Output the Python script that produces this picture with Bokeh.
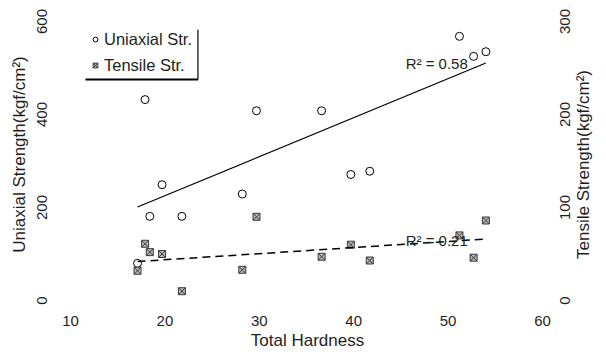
import math
import numpy as np
from bokeh.plotting import figure
from bokeh.models import Range1d, LinearAxis, FixedTicker, Legend, LegendItem
from bokeh.core.properties import value
from bokeh.embed import file_html
from bokeh.resources import INLINE

# ---- data ----
hardness = [17.1, 17.9, 18.4, 19.7, 21.8, 28.2, 29.7, 36.6, 39.7, 41.7, 51.2, 52.7, 54.0]
uniaxial = [80, 432, 181, 249, 181, 229, 408, 408, 271, 278, 568, 525, 535]
tensile = [32, 61, 52, 50, 10, 33, 90, 47, 60, 43, 70, 46, 86]
x_ticks = [10, 20, 30, 40, 50, 60]
left_ticks = [0, 200, 400, 600]
right_ticks = [0, 100, 200, 300]
series_names = ["Uniaxial Str.", "Tensile Str."]
r2_labels = ["R\u00b2 = 0.58", "R\u00b2 = 0.21"]
x_title = "Total Hardness"
left_title = "Uniaxial Strength(kgf/cm\u00b2)"
right_title = "Tensile Strength(kgf/cm\u00b2)"

FONT = "Liberation Sans"
TXT = "#1e1e1e"
W, H = 606, 359
L, R, T, B = 58, 556, 14, 312
TICK_PX = 15
TITLE_PX = 17
YL = (-25.8, 615)
YR = (-12.9, 307.5)
px_per_v = (B - T) / (YL[1] - YL[0])
px_per_t = (B - T) / (YR[1] - YR[0])

p = figure(width=W, height=H, output_backend="svg", toolbar_location=None,
           x_range=Range1d(8.73, 61.48), y_range=Range1d(*YL),
           min_border_left=L, min_border_right=W - R, min_border_top=T,
           min_border_bottom=H - B)
p.extra_y_ranges = {"t": Range1d(*YR)}

yl = p.yaxis[0]
yr = LinearAxis(y_range_name="t")
p.add_layout(yr, "right")

# y-axis titles are carried by one-label axes so they can read bottom-to-top
# and sit where the reference puts them
lt_pos = round(YL[1] - (154 - T) / px_per_v, 1)
yl_title = LinearAxis(ticker=FixedTicker(ticks=[lt_pos]),
                      major_label_overrides={lt_pos: left_title})
p.add_layout(yl_title, "left")
rt_len = 11.23 * TITLE_PX
rt_pos = round(YR[1] - (163 + rt_len / 2 - T) / px_per_t, 1)
yr_title = LinearAxis(y_range_name="t", ticker=FixedTicker(ticks=[rt_pos]),
                      major_label_overrides={rt_pos: right_title})
p.add_layout(yr_title, "right")

p.grid.visible = False
p.outline_line_color = None
p.background_fill_color = "white"
p.border_fill_color = "white"

for ax in p.axis:
    ax.axis_line_color = None
    ax.major_tick_line_color = None
    ax.minor_tick_line_color = None
    ax.major_tick_out = 0
    ax.major_tick_in = 0
    ax.major_label_text_font = FONT
    ax.major_label_text_font_size = f"{TICK_PX}px"
    ax.major_label_text_color = TXT
    ax.axis_label_text_font = FONT
    ax.axis_label_text_font_size = f"{TITLE_PX}px"
    ax.axis_label_text_font_style = "normal"
    ax.axis_label_text_color = TXT

p.xaxis.ticker = FixedTicker(ticks=x_ticks)
p.xaxis.major_label_standoff = 3
p.xaxis.axis_label = x_title
p.xaxis.axis_label_standoff = 2

yl.ticker = FixedTicker(ticks=left_ticks)
yl.major_label_orientation = "vertical"
yl.major_label_standoff = 11

yl_title.major_label_orientation = "vertical"
yl_title.major_label_text_font_size = f"{TITLE_PX}px"
yl_title.major_label_standoff = 5

# right axis: labels read bottom-to-top; they are anchored at their start,
# so place each tick half a label length lower to centre the text on its value
shift = {t: round(len(str(t)) * 0.556 * TICK_PX / 2 / px_per_t, 1) for t in right_ticks}
r_pos = [round(t - shift[t], 1) for t in right_ticks]
yr.ticker = FixedTicker(ticks=r_pos)
yr.major_label_overrides = {pos: str(t) for pos, t in zip(r_pos, right_ticks)}
yr.major_label_orientation = math.pi / 2
yr.major_label_standoff = 9

yr_title.major_label_orientation = math.pi / 2
yr_title.major_label_text_font_size = f"{TITLE_PX}px"
yr_title.major_label_standoff = 5

# markers
r_u = p.scatter(hardness, uniaxial, marker="circle", size=8, fill_color=None,
                line_color="black", line_width=1)
r_t = p.scatter(hardness, tensile, marker="square_x", size=7, y_range_name="t",
                fill_color="#b8b8b8", line_color="#3a3a3a", line_width=1)

# regression lines
hx = np.array(hardness, dtype=float)
a, b = np.polyfit(hx, np.array(uniaxial, dtype=float), 1)
c, d = np.polyfit(hx, np.array(tensile, dtype=float), 1)
xs = np.array([hx.min(), hx.max()])
p.line(xs, a * xs + b, line_color="black", line_width=1.2)
p.line(xs, c * xs + d, y_range_name="t", line_color="black", line_width=1.5,
       line_dash="8 5")

# R^2 annotations
p.text(x=[45.5], y=[510], text=[r2_labels[0]], text_font=value(FONT),
       text_font_size="15px", text_color=TXT, text_baseline="middle", text_align="left")
p.text(x=[45.5], y=[64.5], text=[r2_labels[1]], y_range_name="t", text_font=value(FONT),
       text_font_size="15px", text_color=TXT, text_baseline="middle", text_align="left")

# legend
legend = Legend(items=[LegendItem(label=series_names[0], renderers=[r_u]),
                       LegendItem(label=series_names[1], renderers=[r_t])],
                location=(26, 232), padding=5, spacing=6, margin=0,
                glyph_width=12, glyph_height=20, label_height=20, label_standoff=3,
                label_text_font=FONT, label_text_font_size="16.5px", label_text_color=TXT,
                border_line_alpha=0, background_fill_alpha=0)
p.add_layout(legend)
# legend frame (right and bottom edges only)
p.segment(x0=[11.59], y0=[475], x1=[23.5], y1=[475], line_color="black", line_width=2)
p.segment(x0=[23.5], y0=[475], x1=[23.5], y1=[582], line_color="black", line_width=1.2)

open("out.html", "w").write(file_html(p, INLINE))
